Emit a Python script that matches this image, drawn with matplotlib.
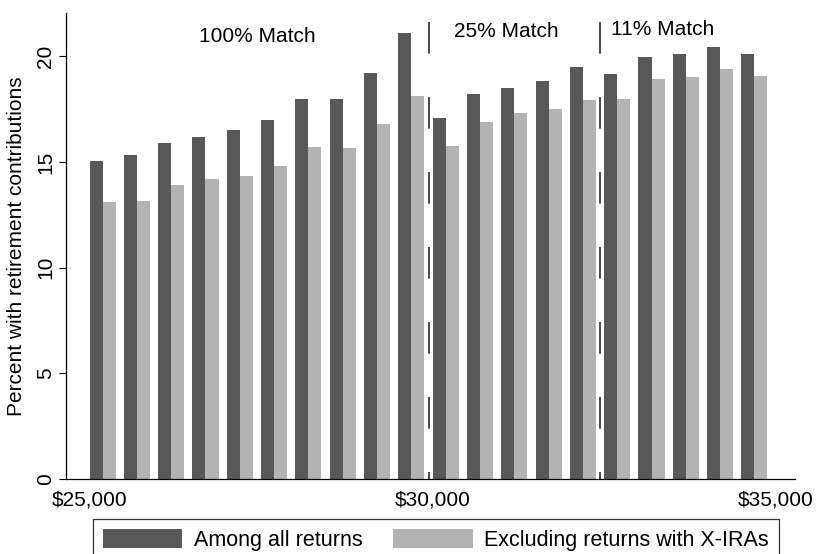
import numpy as np
import matplotlib.pyplot as plt

# $500 income bins starting at $25,000
bin_start = [25000 + 500 * i for i in range(20)]

all_returns = [15.05, 15.35, 15.9, 16.2, 16.5, 17.0, 18.0, 18.0, 19.2, 21.1,
               17.1, 18.2, 18.5, 18.85, 19.5, 19.15, 19.95, 20.1, 20.45, 20.1]
excl_xira = [13.1, 13.15, 13.9, 14.2, 14.35, 14.8, 15.7, 15.65, 16.8, 18.1,
             15.75, 16.9, 17.3, 17.5, 17.95, 18.0, 18.9, 19.0, 19.4, 19.05]

match_cutoffs = [29940, 32440]
match_labels = ["100% Match", "25% Match", "11% Match"]
match_label_x = [27440, 31070, 33350]
match_label_y = [20.95, 21.15, 21.25]

x_ticks = [25000, 30000, 35000]
x_ticklabels = ["$25,000", "$30,000", "$35,000"]
y_ticks = [0, 5, 10, 15, 20]

plt.rcParams['font.family'] = ['Liberation Sans', 'DejaVu Sans']
fs = 15

fig = plt.figure(figsize=(8.17, 5.54), dpi=100)
ax = fig.add_axes([0.081, 0.135, 0.892, 0.841])

bar_w = 190
x = np.array(bin_start)
ax.bar(x, all_returns, width=bar_w, align='edge', color='#585858',
       label="Among all returns")
ax.bar(x + bar_w, excl_xira, width=bar_w, align='edge', color='#b3b3b3',
       label="Excluding returns with X-IRAs")

# match-rate thresholds, dashes laid out from the top down
for c in match_cutoffs:
    ax.plot([c, c], [21.6, 0], color='#2a2a2a', lw=1.2,
            dashes=(19, 26))

for lab, lx, ly in zip(match_labels, match_label_x, match_label_y):
    ax.text(lx, ly, lab, ha='center', va='center', fontsize=fs)

ax.set_xlim(24660, 35280)
ax.set_ylim(0, 22.03)
ax.set_yticks(y_ticks)
ax.set_yticklabels([str(v) for v in y_ticks], rotation=90, va='center',
                   fontsize=fs)
ax.set_xticks(x_ticks)
ax.set_xticklabels(x_ticklabels, fontsize=fs)
ax.tick_params(axis='x', length=0, pad=8)
ax.tick_params(axis='y', length=5, width=0.8, pad=3)
ax.set_ylabel("Percent with retirement contributions", fontsize=fs,
              labelpad=7)

ax.spines['top'].set_visible(False)
ax.spines['right'].set_visible(False)
for s in ('left', 'bottom'):
    ax.spines[s].set_linewidth(0.9)

leg = fig.legend(loc='upper left', bbox_to_anchor=(93 / 817, 1 - 519 / 554),
                 ncol=2, fontsize=15.5, frameon=True, fancybox=False,
                 edgecolor='black', handlelength=3.7, handleheight=1.0,
                 columnspacing=1.4, borderpad=0.45, handletextpad=0.55,
                 borderaxespad=0)
leg.get_frame().set_linewidth(0.9)

fig.savefig("out.png", dpi=100)
